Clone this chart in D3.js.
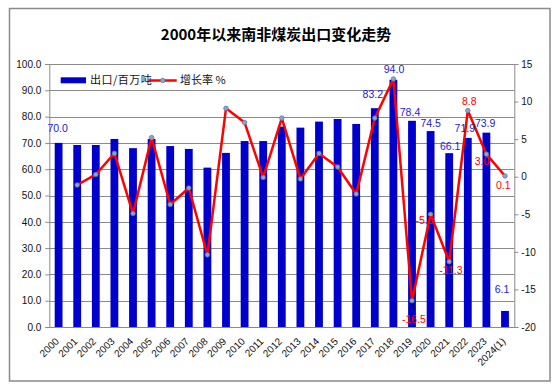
<!DOCTYPE html>
<html><head><meta charset="utf-8">
<script src="https://cdn.jsdelivr.net/npm/d3@7"></script>
<style>
html,body{margin:0;padding:0;background:#fff;}
svg{display:block;}
</style></head>
<body>
<script>
// ---- data ----
const years = ["2000","2001","2002","2003","2004","2005","2006","2007","2008","2009","2010","2011","2012","2013","2014","2015","2016","2017","2018","2019","2020","2021","2022","2023","2024(1)"];
const exportsMt = [70.0,69.2,69.2,71.5,68.0,71.5,68.8,67.7,60.6,66.2,70.7,70.7,76.2,75.8,78.1,79.1,77.2,83.2,94.0,78.4,74.5,66.1,71.9,73.9,6.1];
const growthPct = [null,-1.1,0.3,3.1,-4.9,5.2,-3.7,-1.5,-10.4,9.1,7.2,-0.1,7.8,-0.3,3.1,1.3,-2.3,7.8,13.0,-16.5,-5.0,-11.3,8.8,3.0,0.1];
const leftTicks = [0,10,20,30,40,50,60,70,80,90,100];
const rightTicks = [-20,-15,-10,-5,0,5,10,15];
const barLabelYears = ["2000","2017","2018","2019","2020","2021","2022","2023","2024(1)"];
const growthLabelYears = ["2019","2020","2021","2022","2023","2024(1)"];
const titleText = "2000年以来南非煤炭出口变化走势";
const legendBar = "出口/百万吨";
const legendLine = "增长率 %";

// ---- layout ----
const W = 558, H = 385;
const plot = {l: 49.3, r: 514.3, t: 64, b: 327};
const svg = d3.select("body").append("svg").attr("width", W).attr("height", H);
const NUM = "'Liberation Sans', Arial, sans-serif";
const CJK = "'Noto Sans CJK SC', sans-serif";
const hy = s => s.replace(/\u2212/g, "-");
const f1 = v => hy(d3.format(".1f")(v));
const f0 = v => hy(d3.format("d")(v));

svg.append("rect").attr("x",0).attr("y",0).attr("width",W).attr("height",H).attr("fill","#fff");
svg.append("rect").attr("x",9.5).attr("y",8.5).attr("width",540.5).attr("height",372.5)
  .attr("fill","#fff").attr("stroke","#8a8a8a").attr("stroke-width",1.5);

// title
svg.append("text").attr("x",276).attr("y",40).attr("text-anchor","middle")
  .attr("font-family",CJK).attr("font-weight","bold").attr("font-size",15).attr("fill","#000")
  .text(titleText);

const x = d3.scaleBand().domain(years).range([plot.l, plot.r]).padding(0);
const yL = d3.scaleLinear().domain([0,100]).range([plot.b, plot.t]);
const yR = d3.scaleLinear().domain([-20,15]).range([plot.b, plot.t]);
const cx = d => x(d) + x.bandwidth()/2;
const barW = x.bandwidth()*0.42;

// gridlines
svg.append("g").selectAll("line").data(leftTicks).join("line")
  .attr("x1",plot.l).attr("x2",plot.r)
  .attr("y1",d=>Math.round(yL(d))+0.5).attr("y2",d=>Math.round(yL(d))+0.5)
  .attr("stroke","#8a8a8a").attr("stroke-width",1);

// left axis
const axL = d3.axisLeft(yL).tickValues(leftTicks).tickFormat(f1).tickSize(4).tickPadding(4);
const gL = svg.append("g").attr("transform",`translate(${plot.l},0)`).call(axL);
gL.select(".domain").attr("stroke","#8a8a8a");
gL.selectAll(".tick line").attr("stroke","#8a8a8a");
gL.selectAll("text").attr("font-family",NUM).attr("font-size",10).attr("fill","#111");

// right axis
const axR = d3.axisRight(yR).tickValues(rightTicks).tickFormat(f0).tickSize(4).tickPadding(3);
const gR = svg.append("g").attr("transform",`translate(${plot.r},0)`).call(axR);
gR.select(".domain").attr("stroke","#8a8a8a");
gR.selectAll(".tick line").attr("stroke","#8a8a8a");
gR.selectAll("text").attr("font-family",NUM).attr("font-size",10).attr("fill","#111");

// bars
const rows = years.map((y,i)=>({year:y, v:exportsMt[i], g:growthPct[i]}));
svg.append("g").selectAll("rect").data(rows).join("rect")
  .attr("x",d=>cx(d.year)-barW/2).attr("width",barW)
  .attr("y",d=>yL(d.v)).attr("height",d=>yL(0)-yL(d.v))
  .attr("fill","#0000CC");

// bottom axis
const axB = d3.axisBottom(x).tickSize(0).tickPadding(0);
const gB = svg.append("g").attr("transform",`translate(0,${plot.b})`).call(axB);
gB.select(".domain").attr("stroke","#8a8a8a");
gB.selectAll(".tick text").attr("font-family",NUM).attr("font-size",10).attr("fill","#111")
  .attr("text-anchor","end").attr("dy",null)
  .attr("transform","translate(1,15) rotate(-45)");

// growth line
const line = d3.line().defined(d=>d.g!=null).x(d=>cx(d.year)).y(d=>yR(d.g));
svg.append("path").datum(rows).attr("d",line).attr("fill","none")
  .attr("stroke","#FF0000").attr("stroke-width",2.5).attr("stroke-linejoin","round");

// leader line for 2019 label
const r19 = rows.find(d=>d.year==="2019");
svg.append("line").attr("x1",cx(r19.year)).attr("y1",yR(r19.g))
  .attr("x2",cx(r19.year)+2.5).attr("y2",yR(r19.g)+9).attr("stroke","#000").attr("stroke-width",1);

svg.append("g").selectAll("circle").data(rows.filter(d=>d.g!=null)).join("circle")
  .attr("cx",d=>cx(d.year)).attr("cy",d=>yR(d.g)).attr("r",2.3)
  .attr("fill","#8fa3c8").attr("stroke","#5a73a8").attr("stroke-width",0.7);

// bar value labels (nudges for placement)
const barNudge = {"2000":[-1,-10.5],"2017":[-2,-10.5],"2018":[0.6,-7],"2019":[-2,-5],"2020":[0,-4.5],
  "2021":[1,-3],"2022":[-3,-6],"2023":[-1.3,-6],"2024(1)":[-3,-18]};
svg.append("g").selectAll("text").data(rows.filter(d=>barLabelYears.includes(d.year))).join("text")
  .attr("x",d=>cx(d.year)+barNudge[d.year][0]).attr("y",d=>yL(d.v)+barNudge[d.year][1])
  .attr("text-anchor","middle").attr("font-family",NUM).attr("font-size",10.5).attr("fill","#1a1ad6")
  .text(d=>f1(d.v));

// growth labels
const gNudge = {"2019":[2,22],"2020":[-6,9.5],"2021":[1.7,12.8],"2022":[1.5,-6],"2023":[-4.3,11],"2024(1)":[-1.7,12.7]};
svg.append("g").selectAll("text").data(rows.filter(d=>growthLabelYears.includes(d.year))).join("text")
  .attr("x",d=>cx(d.year)+gNudge[d.year][0]).attr("y",d=>yR(d.g)+gNudge[d.year][1])
  .attr("text-anchor","middle").attr("font-family",NUM).attr("font-size",10.5).attr("fill","#FF0000")
  .text(d=>f1(d.g));

// legend
const lg = svg.append("g");
lg.append("rect").attr("x",60.7).attr("y",77.3).attr("width",25.3).attr("height",6).attr("fill","#0000CC");
lg.append("text").attr("x",90).attr("y",84).attr("font-family",CJK).attr("font-size",11).attr("fill","#111")
  .attr("letter-spacing",0.5).text(legendBar);
lg.append("line").attr("x1",148.3).attr("x2",176.7).attr("y1",80.5).attr("y2",80.5)
  .attr("stroke","#FF0000").attr("stroke-width",2.5);
lg.append("circle").attr("cx",162.7).attr("cy",80.5).attr("r",2.3)
  .attr("fill","#8fa3c8").attr("stroke","#5a73a8").attr("stroke-width",0.7);
lg.append("text").attr("x",180).attr("y",84).attr("font-family",CJK).attr("font-size",11).attr("fill","#111")
  .text(legendLine);
</script>
</body></html>
